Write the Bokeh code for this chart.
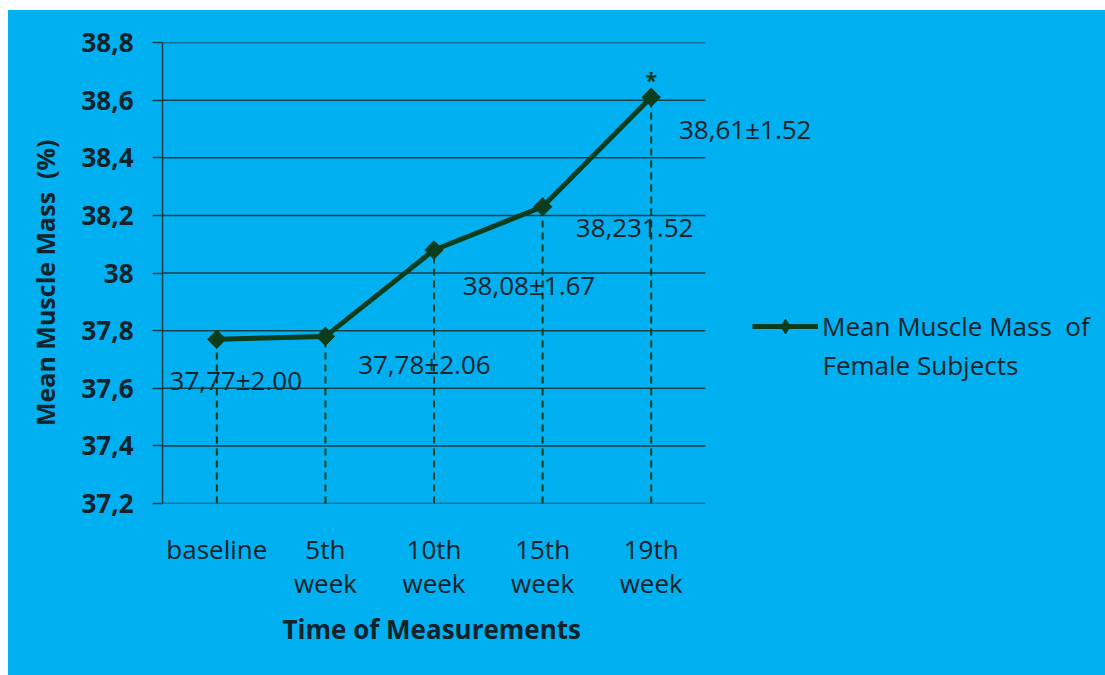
import math
from bokeh.plotting import figure
from bokeh.models import (Range1d, FixedTicker, CustomJSTickFormatter, Title,
                          LabelSet, Label, Legend, LegendItem, ColumnDataSource)
from bokeh.core.properties import value
from bokeh.embed import file_html
from bokeh.resources import INLINE

# ---- data ----
categories = ["baseline", "5th\nweek", "10th\nweek", "15th\nweek", "19th\nweek"]
mean_mass = [37.77, 37.78, 38.08, 38.23, 38.61]
point_labels = ["37,77\u00b12.00", "37,78\u00b12.06", "38,08\u00b11.67", "38,231.52", "38,61\u00b11.52"]
y_ticks = [37.2, 37.4, 37.6, 37.8, 38.0, 38.2, 38.4, 38.6, 38.8]
series_name = "Mean Muscle Mass\u00a0 of"
series_name2 = "Female Subjects"
y_title = "Mean Muscle Mass\u00a0 (%)"
x_title = "Time of Measurements"
significance = "*"

# ---- layout / style ----
BLUE = "#00b0f0"
GRID = "#153f48"
LINE = "#0c3d1c"
TEXT = "#10222a"
FONT = "Open Sans"
label_dx = [19, 99, 95, 92, 94]
label_dy = [-41, -28, -35, -21, -32]

W, H = 1097, 665
LEFT, TOP, BOTTOM = 154, 32, 172
PX_PER_CAT = 108.6

n = len(categories)
xs = [i + 0.5 for i in range(n)]
y_lo, y_hi = y_ticks[0], y_ticks[-1]
x_end = (W - LEFT) / PX_PER_CAT

p = figure(x_range=Range1d(0, x_end), y_range=Range1d(y_lo, y_hi),
           width=W, height=H, output_backend="svg", toolbar_location=None,
           min_border_left=LEFT, min_border_right=0, min_border_top=TOP, min_border_bottom=BOTTOM,
           background_fill_color=BLUE, border_fill_color=BLUE, outline_line_color=None)
p.margin = (10, 0, 0, 8)
p.styles = {"background-color": BLUE}

src = ColumnDataSource(dict(x=xs, y=mean_mass, lab=point_labels,
                            y0=[y_lo] * n, dx=label_dx, dy=label_dy))

# horizontal gridlines limited to the category area
p.segment(x0=[0] * len(y_ticks), x1=[n] * len(y_ticks), y0=y_ticks, y1=y_ticks,
          line_color=GRID, line_width=1.5)

# drop lines
p.segment(x0="x", y0="y0", x1="x", y1="y", source=src, line_color=LINE,
          line_width=2, line_dash="7 5")

line_r = p.line("x", "y", source=src, line_color=LINE, line_width=5)
# diamond marker (used for the legend swatch), covered by the wider diamonds below
legend_mark = p.scatter("x", "y", source=src, marker="diamond", size=16,
                        fill_color=LINE, line_color=LINE)
mark_r = p.scatter("x", "y", source=src, marker="square", size=13, angle=math.pi / 4,
                   fill_color=LINE, line_color=LINE)

# grid & axes
p.xgrid.visible = False
p.ygrid.visible = False
p.yaxis.ticker = FixedTicker(ticks=y_ticks)
p.yaxis.formatter = CustomJSTickFormatter(code="return tick.toFixed(1).replace('.', ',').replace(',0', '');")
p.yaxis.axis_line_color = GRID
p.yaxis.axis_line_width = 1.5
p.yaxis.major_tick_line_color = GRID
p.yaxis.major_tick_line_width = 1.5
p.yaxis.major_tick_out = 10
p.yaxis.major_tick_in = 0
p.yaxis.minor_tick_line_color = None
p.yaxis.major_label_text_font = FONT
p.yaxis.major_label_text_font_style = "bold"
p.yaxis.major_label_text_font_size = "26px"
p.yaxis.major_label_text_color = TEXT
p.yaxis.major_label_standoff = 19
p.yaxis.axis_label = y_title + "\u00a0\u00a0\u00a0"
p.yaxis.axis_label_text_font = FONT
p.yaxis.axis_label_text_font_style = "bold"
p.yaxis.axis_label_text_font_size = "25px"
p.yaxis.axis_label_text_color = TEXT
p.yaxis.axis_label_standoff = 16

p.xaxis.ticker = FixedTicker(ticks=xs)
p.xaxis.major_label_overrides = {x: c for x, c in zip(xs, categories)}
p.xaxis.axis_line_color = None
p.xaxis.major_tick_line_color = None
p.xaxis.major_tick_out = 0
p.xaxis.minor_tick_line_color = None
p.xaxis.major_label_text_font = FONT
p.xaxis.major_label_text_font_size = "26px"
p.xaxis.major_label_text_line_height = 0.96
p.xaxis.major_label_text_color = TEXT
p.xaxis.major_label_standoff = 27

p.add_layout(Title(text=x_title, align="left", offset=120, standoff=9,
                   text_font=FONT, text_font_size="26px", text_font_style="bold",
                   text_color=TEXT), "below")

# data labels
labels = LabelSet(x="x", y="y", text="lab", source=src, x_offset="dx", y_offset="dy",
                  text_align="center", text_baseline="middle", text_font=value(FONT),
                  text_font_size="26px", text_color=TEXT)
p.add_layout(labels)

star_src = ColumnDataSource(dict(x=xs[-1:], y=mean_mass[-1:], t=[significance]))
p.add_layout(LabelSet(x="x", y="y", text="t", source=star_src, y_offset=18,
                      text_align="center", text_baseline="middle", text_font=value(FONT),
                      text_font_size="22px", text_color=LINE, text_font_style="bold"))

# legend
legend = Legend(items=[LegendItem(label=series_name, renderers=[line_r, legend_mark])],
                location=(590, 159), glyph_width=66, glyph_height=36, label_height=36,
                label_standoff=4, padding=0, margin=0, border_line_color=None,
                background_fill_alpha=0, label_text_font=FONT, label_text_font_size="26px",
                label_text_color=TEXT)
p.add_layout(legend)
p.add_layout(Label(x=660, y=139, x_units="screen", y_units="screen", text=series_name2,
                   text_baseline="middle", text_font=FONT, text_font_size="26px",
                   text_color=TEXT))

open("out.html", "w").write(file_html(p, INLINE))
